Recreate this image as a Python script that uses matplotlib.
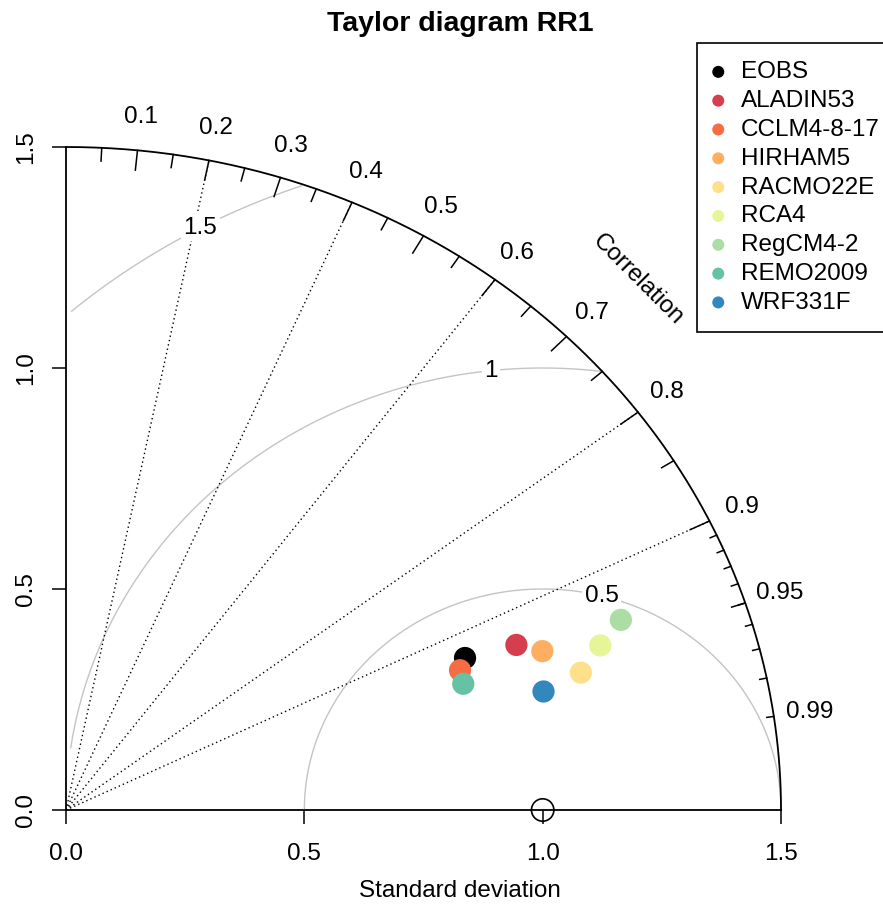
import matplotlib
matplotlib.use("Agg")
import matplotlib.pyplot as plt
import numpy as np

plt.rcParams['font.family'] = ['Liberation Sans', 'DejaVu Sans']

# data
models = ['EOBS', 'ALADIN53', 'CCLM4-8-17', 'HIRHAM5', 'RACMO22E',
          'RCA4', 'RegCM4-2', 'REMO2009', 'WRF331F']
sd = [0.905, 1.016, 0.885, 1.062, 1.124, 1.181, 1.241, 0.881, 1.037]
cor = [0.925, 0.930, 0.934, 0.941, 0.961, 0.949, 0.938, 0.946, 0.966]
colors = ['#000000', '#D53E4F', '#F46D43', '#FDAE61', '#FEE08B',
          '#E6F598', '#ABDDA4', '#66C2A5', '#3288BD']

ref_sd = 1.0
maxsd = 1.5
sd_ticks = [0, 0.5, 1.0, 1.5]
sd_ticklabels = ['0.0', '0.5', '1.0', '1.5']
corr_lines = [0.2, 0.4, 0.6, 0.8, 0.9]
cor_labels = [0.1, 0.2, 0.3, 0.4, 0.5, 0.6, 0.7, 0.8, 0.9, 0.95, 0.99]
gammas = [0.5, 1.0, 1.5]
gamma_labels = ['0.5', '1', '1.5']
gamma_label_ang = [1.32, 1.68, 2.07]   # where the rms labels sit on each curve

FS = 17.5

fig = plt.figure(figsize=(8.83, 9.06), dpi=100)
W, H = 883, 906
ax = fig.add_axes([66 / W, 96 / H, (781 - 66) / W, (810 - 147) / H])
ax.set_xlim(0, maxsd)
ax.set_ylim(0, maxsd)
ax.set_facecolor('none')
for s in ['top', 'right']:
    ax.spines[s].set_visible(False)
for s in ['left', 'bottom']:
    ax.spines[s].set_linewidth(1.3)

ax.set_xticks(sd_ticks)
ax.set_xticklabels(sd_ticklabels)
ax.set_yticks(sd_ticks)
ax.set_yticklabels(sd_ticklabels)
ax.tick_params(direction='out', length=10, width=1.1, labelsize=FS)
ax.tick_params(axis='x', pad=14)
ax.tick_params(axis='y', pad=11, labelrotation=90)
for lab in ax.get_yticklabels():
    lab.set_va('center')

# rms difference curves around the reference point
for g, gl, ga in zip(gammas, gamma_labels, gamma_label_ang):
    th = np.arange(0, np.pi, 0.005)
    xc = ref_sd + g * np.cos(th)
    yc = g * np.sin(th)
    keep = (xc >= 0.01) & (xc ** 2 + yc ** 2 <= maxsd ** 2 + 1e-9)
    ax.plot(xc[keep], yc[keep], color='#c4c4c4', lw=1.0, clip_on=False, zorder=1)
    ax.text(ref_sd + g * np.cos(ga), g * np.sin(ga), gl, fontsize=FS,
            ha='center', va='center', zorder=3,
            bbox=dict(boxstyle='square,pad=0.1', fc='white', ec='none'))

# correlation rays
for c in corr_lines:
    a = np.arccos(c)
    ax.plot([0, maxsd * np.cos(a)], [0, maxsd * np.sin(a)], color='black',
            lw=1.0, linestyle=(0, (1, 2.2)), clip_on=False, zorder=2)

# outer arc
t = np.linspace(0, np.pi / 2, 300)
ax.plot(maxsd * np.cos(t), maxsd * np.sin(t), color='black', lw=1.3,
        clip_on=False, zorder=2)

# ticks on the arc
for ticks, frac in [(np.arange(0.1, 0.95, 0.1), 0.97),
                    (np.arange(0.05, 1.0, 0.1), 0.98),
                    (np.arange(0.91, 0.995, 0.01), 0.99)]:
    a = np.arccos(ticks)
    for ai in a:
        ax.plot([maxsd * np.cos(ai), frac * maxsd * np.cos(ai)],
                [maxsd * np.sin(ai), frac * maxsd * np.sin(ai)],
                color='black', lw=1.1, clip_on=False, zorder=2)

for c in cor_labels:
    a = np.arccos(c)
    ax.text(1.05 * maxsd * np.cos(a), 1.05 * maxsd * np.sin(a),
            '%g' % c, fontsize=FS, ha='center', va='center')

ax.text(maxsd * 0.8, maxsd * 0.8, 'Correlation', fontsize=FS, rotation=-45,
        ha='center', va='center')

# reference point
ax.scatter([ref_sd], [0], s=260, facecolors='none', edgecolors='black',
           linewidths=1.2, clip_on=False, zorder=4)

handles = []
for m, s, c, col in zip(models, sd, cor, colors):
    h = ax.scatter(s * c, s * np.sin(np.arccos(c)), s=256, color=col,
                   edgecolors='none', label=m, clip_on=False, zorder=5)
    handles.append(h)

fig.legend(handles=handles, loc='upper left',
           bbox_to_anchor=(697 / W, 1 - 43 / H), borderaxespad=0,
           fontsize=FS, frameon=True, fancybox=False, edgecolor='black',
           framealpha=1, borderpad=0.75, handlelength=0.25, handletextpad=0.8,
           labelspacing=0.28, markerscale=0.54)
fig.legends[0].get_frame().set_linewidth(1.2)

fig.text(460 / W, 1 - 24 / H, 'Taylor diagram RR1', fontsize=20.5,
         fontweight='bold', ha='center', va='center')
fig.text(460 / W, 1 - 891 / H, 'Standard deviation', fontsize=FS,
         ha='center', va='center')

fig.savefig('out.png', dpi=100)
